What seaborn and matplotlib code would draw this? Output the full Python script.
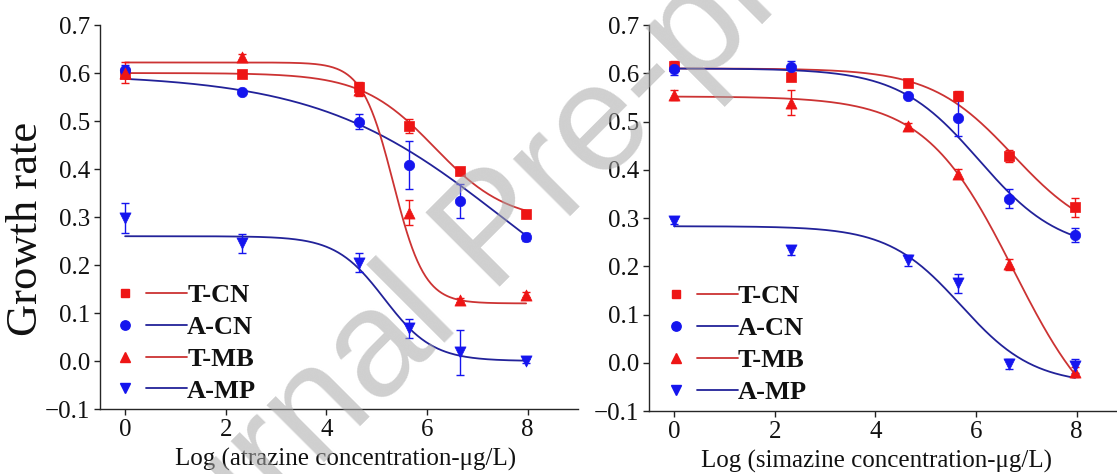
import numpy as np
import pandas as pd
import matplotlib
matplotlib.use("Agg")
import matplotlib.pyplot as plt
from matplotlib.legend_handler import HandlerBase
from matplotlib.lines import Line2D
import seaborn as sns

# ---------------- data ----------------
x_log = [0.0, 2.32, 4.65, 5.65, 6.65, 7.97]
series = ["T-CN", "A-CN", "T-MB", "A-MP"]

# atrazine panel
atr_TCN = [0.599, 0.598, 0.570, 0.490, 0.396, 0.307]
atr_TCN_err = [0.005, 0.004, 0.012, 0.015, 0.005, 0.004]
atr_ACN = [0.606, 0.561, 0.499, 0.408, 0.334, 0.258]
atr_ACN_err = [0.010, 0.004, 0.015, 0.050, 0.035, 0.008]
atr_TMB = [0.601, 0.633, 0.565, 0.309, 0.127, 0.138]
atr_TMB_err = [0.022, 0.006, 0.012, 0.026, 0.004, 0.005]
atr_AMP = [0.298, 0.245, 0.205, 0.068, 0.018, 0.000]
atr_AMP_err = [0.032, 0.019, 0.020, 0.020, 0.047, 0.004]

# simazine panel
sim_TCN = [0.615, 0.593, 0.579, 0.553, 0.428, 0.322]
sim_TCN_err = [0.010, 0.006, 0.005, 0.010, 0.012, 0.020]
sim_ACN = [0.608, 0.613, 0.553, 0.507, 0.340, 0.265]
sim_ACN_err = [0.012, 0.012, 0.005, 0.037, 0.020, 0.015]
sim_TMB = [0.555, 0.539, 0.491, 0.392, 0.204, -0.019]
sim_TMB_err = [0.010, 0.026, 0.006, 0.010, 0.012, 0.010]
sim_AMP = [0.293, 0.233, 0.212, 0.165, -0.002, -0.007]
sim_AMP_err = [0.006, 0.010, 0.012, 0.020, 0.010, 0.015]

# fitted dose-response parameters (top, bottom, logx0, hill slope)
atr_fit_top = [0.600, 0.598, 0.622, 0.260]
atr_fit_bottom = [0.290, 0.000, 0.120, 0.000]
atr_fit_x0 = [6.15, 7.50, 5.33, 5.15]
atr_fit_p = [0.60, 0.235, 1.40, 0.90]

sim_fit_top = [0.610, 0.610, 0.552, 0.283]
sim_fit_bottom = [0.250, 0.230, -0.170, -0.045]
sim_fit_x0 = [6.74, 6.06, 6.75, 5.70]
sim_fit_p = [0.53, 0.54, 0.49, 0.60]

xlabels = ["Log (atrazine concentration-\u03bcg/L)", "Log (simazine concentration-\u03bcg/L)"]
ylabel = "Growth rate"
xticks = [0, 2, 4, 6, 8]
yticks = [-0.1, 0.0, 0.1, 0.2, 0.3, 0.4, 0.5, 0.6, 0.7]

# ---------------- style ----------------
sns.set_theme(style="ticks")
plt.rcParams["font.family"] = ["Liberation Serif", "DejaVu Serif"]
plt.rcParams["axes.linewidth"] = 1.0

marker_colors = ["#ee1515", "#1515ee", "#ee1515", "#1515ee"]
curve_colors = ["#cc3333", "#222299", "#cc3333", "#222299"]
markers = ["s", "o", "^", "v"]
msizes = [7.0, 7.5, 8.0, 8.0]

fig = plt.figure(figsize=(11.17, 4.74), dpi=100)
ax1 = fig.add_axes([0.0895, 0.1371, 0.4279, 0.8101])
ax2 = fig.add_axes([0.5810, 0.1329, 0.4279, 0.8143])


class MarkerThenLine(HandlerBase):
    def create_artists(self, legend, orig_handle, xdescent, ydescent,
                       width, height, fontsize, trans):
        mk, ln = orig_handle
        y = height / 2.0 - ydescent
        x0 = -xdescent
        m = Line2D([x0 + 0.2 * width], [y], marker=mk.get_marker(),
                   color=mk.get_color(), markersize=mk.get_markersize() * 0.9,
                   linestyle="none", transform=trans)
        l = Line2D([x0 + 0.47 * width, x0 + width], [y, y],
                   color=ln.get_color(), linewidth=ln.get_linewidth(),
                   transform=trans)
        return [m, l]


def draw_panel(ax, ys, errs, tops, bottoms, x0s, ps, xlabel, leg_x):
    xs = np.linspace(x_log[0], x_log[-1], 300)
    handles = []
    for i, name in enumerate(series):
        curve = bottoms[i] + (tops[i] - bottoms[i]) / (1 + 10 ** ((xs - x0s[i]) * ps[i]))
        df = pd.DataFrame({"x": xs, "y": curve})
        sns.lineplot(data=df, x="x", y="y", ax=ax, color=curve_colors[i],
                     linewidth=1.3, zorder=2)
        ax.errorbar(x_log, ys[i], yerr=errs[i], fmt="none", ecolor=marker_colors[i],
                    elinewidth=1.0, capsize=3, capthick=1.0, zorder=3)
        pts = pd.DataFrame({"x": x_log, "y": ys[i]})
        sns.scatterplot(data=pts, x="x", y="y", ax=ax, marker=markers[i],
                        color=marker_colors[i], s=(msizes[i]) ** 2,
                        edgecolor=marker_colors[i], linewidth=0.5, zorder=4)
        mk = Line2D([], [], marker=markers[i], color=marker_colors[i],
                    markersize=msizes[i], linestyle="none")
        ln = Line2D([], [], color=curve_colors[i], linewidth=1.3)
        handles.append((mk, ln))
    ax.set_xlim(-0.5, 9.0)
    ax.set_ylim(-0.1, 0.7)
    ax.set_xticks(xticks)
    ax.set_yticks(yticks)
    ax.set_xticklabels([str(t) for t in xticks])
    ax.set_yticklabels(["\u22120.1" if t < 0 else f"{t:.1f}" for t in yticks])
    ax.tick_params(axis="both", direction="out", length=4, width=1.0,
                   labelsize=18, pad=3, colors="#222222", labelcolor="#111111")
    ax.set_xlabel(xlabel, fontsize=18, color="#111111")
    ax.set_ylabel("")
    sns.despine(ax=ax)
    leg = ax.legend(handles, series, handler_map={tuple: MarkerThenLine()},
                    loc="upper left", bbox_to_anchor=(leg_x, 0.327),
                    frameon=False, handlelength=2.92, handletextpad=0.0,
                    borderpad=0.0, borderaxespad=0.0, labelspacing=0.32,
                    prop={"weight": "bold", "size": 19})
    for t in leg.get_texts():
        t.set_color("#111111")
    return ax


draw_panel(ax1, [atr_TCN, atr_ACN, atr_TMB, atr_AMP],
           [atr_TCN_err, atr_ACN_err, atr_TMB_err, atr_AMP_err],
           atr_fit_top, atr_fit_bottom, atr_fit_x0, atr_fit_p, xlabels[0], 0.021)
draw_panel(ax2, [sim_TCN, sim_ACN, sim_TMB, sim_AMP],
           [sim_TCN_err, sim_ACN_err, sim_TMB_err, sim_AMP_err],
           sim_fit_top, sim_fit_bottom, sim_fit_x0, sim_fit_p, xlabels[1], 0.025)

ax1.xaxis.set_label_coords(0.513, -0.100)
ax2.xaxis.set_label_coords(0.477, -0.100)
ax1.set_ylabel(ylabel, fontsize=32, color="#111111")
ax1.yaxis.set_label_coords(-0.112, 0.47)

# journal watermark
fig.text(0.445, 0.505, "Journal Pre-proof", fontsize=110, family="Liberation Sans",
         color="#a8a8a8", alpha=0.55, rotation=45, ha="center",
         va="center", rotation_mode="anchor", zorder=10)

fig.savefig("out.png", dpi=100)
